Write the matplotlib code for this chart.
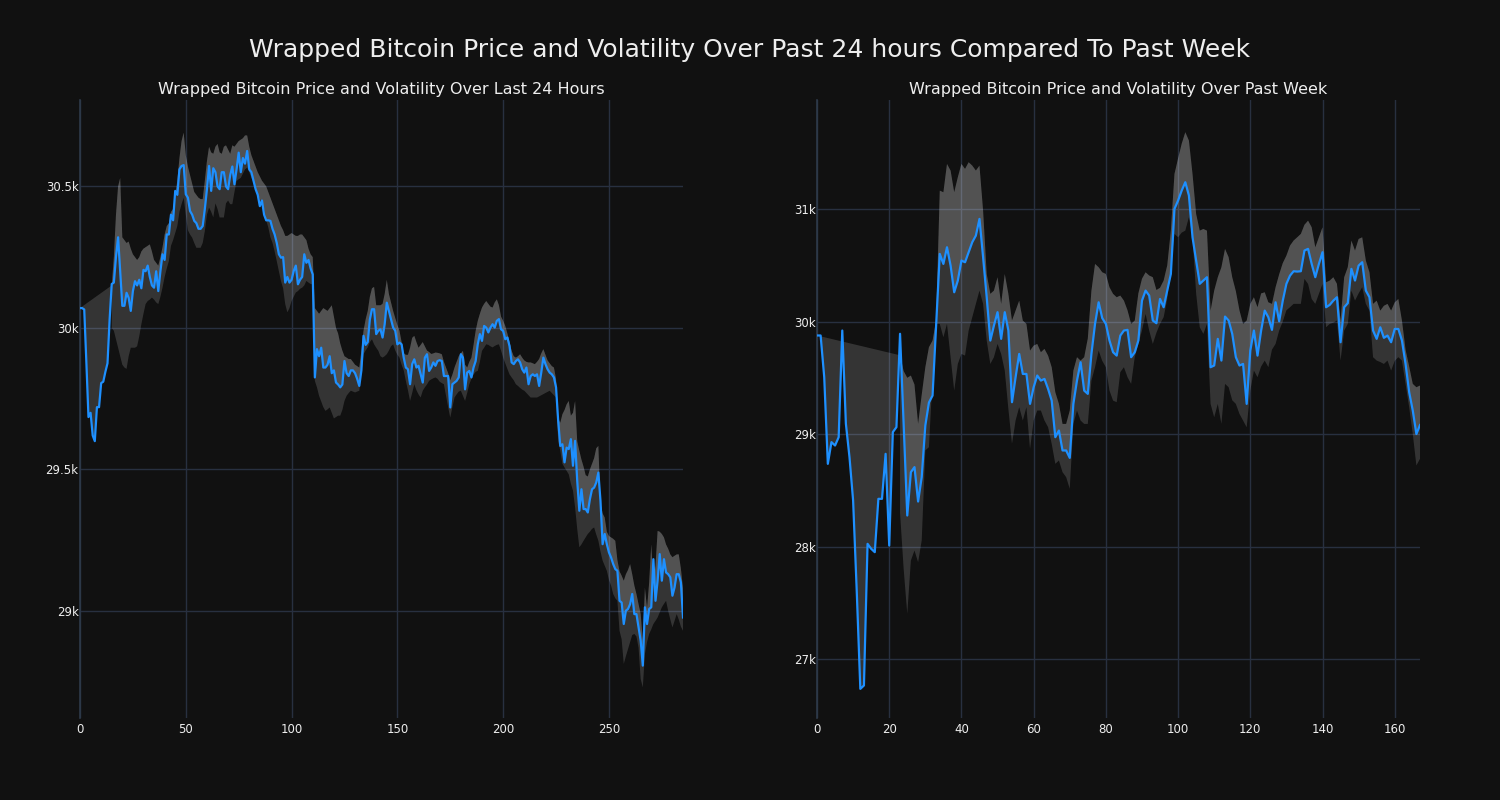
import numpy as np
import matplotlib
matplotlib.use("Agg")
import matplotlib.pyplot as plt
from matplotlib.ticker import MultipleLocator, FuncFormatter

# ---------------- data: last 24 hours (5-minute steps) ----------------
day_price = [
    30070, 30070, 30065, 29880, 29685, 29700, 29620, 29600, 29720, 29720,
    29805, 29810, 29845, 29875, 30030, 30155, 30160, 30250, 30320, 30200,
    30078, 30078, 30124, 30106, 30060, 30130, 30165, 30150, 30170, 30140,
    30205, 30200, 30220, 30180, 30150, 30142, 30200, 30130, 30200, 30260,
    30240, 30330, 30330, 30400, 30380, 30484, 30470, 30560, 30572, 30575,
    30472, 30460, 30413, 30400, 30378, 30370, 30350, 30350, 30360, 30420,
    30490, 30572, 30484, 30564, 30550, 30500, 30490, 30550, 30550, 30500,
    30490, 30540, 30570, 30507, 30560, 30619, 30550, 30600, 30580, 30625,
    30560, 30550, 30520, 30490, 30470, 30430, 30450, 30400, 30380, 30380,
    30378, 30350, 30330, 30300, 30260, 30248, 30250, 30160, 30180, 30160,
    30170, 30201, 30220, 30154, 30170, 30180, 30260, 30230, 30240, 30210,
    30189, 29825, 29925, 29900, 29930, 29860, 29860, 29870, 29900, 29840,
    29850, 29807, 29800, 29790, 29800, 29883, 29840, 29830, 29850, 29850,
    29840, 29820, 29795, 29850, 29972, 29940, 29950, 30030, 30066, 30066,
    29978, 29990, 29995, 29966, 30013, 30089, 30060, 30030, 30001, 29990,
    29942, 29948, 29942, 29895, 29860, 29854, 29801, 29872, 29889, 29860,
    29866, 29836, 29807, 29895, 29907, 29848, 29860, 29878, 29866, 29883,
    29886, 29883, 29830, 29830, 29830, 29719, 29801, 29807, 29813, 29825,
    29907, 29895, 29783, 29842, 29848, 29825, 29860, 29883, 29942, 29978,
    29954, 30007, 30001, 29984, 30001, 30013, 30001, 30025, 30031, 29995,
    29989, 29960, 29966, 29936, 29878, 29872, 29883, 29889, 29878, 29854,
    29842, 29860, 29801, 29830, 29836, 29830, 29836, 29795, 29842, 29895,
    29872, 29854, 29842, 29836, 29825, 29790, 29672, 29583, 29589, 29525,
    29577, 29572, 29607, 29513, 29601, 29460, 29354, 29430, 29360, 29360,
    29348, 29395, 29430, 29436, 29454, 29489, 29389, 29236, 29272, 29236,
    29207, 29189, 29166, 29148, 29142, 29036, 29030, 28954, 29001, 29007,
    29024, 29060, 28989, 28989, 28942, 28895, 28807, 29013, 28954, 29007,
    29013, 29183, 29036, 29107, 29201, 29107, 29183, 29136, 29130, 29119,
    29054, 29083, 29130, 29130, 29101, 28977,
]
day_band_start = 15
day_upper = [
    30150, 30250, 30400, 30500, 30530,
    30320, 30310, 30300, 30305, 30280, 30260, 30250, 30240, 30250, 30270,
    30280, 30285, 30290, 30295, 30270, 30240, 30230, 30220, 30250, 30285,
    30330, 30360, 30370, 30410, 30420, 30470, 30520, 30600, 30660, 30690,
    30610, 30570, 30540, 30510, 30480, 30470, 30460, 30455, 30455, 30520,
    30590, 30640, 30620, 30615, 30640, 30650, 30620, 30615, 30640, 30645,
    30630, 30615, 30645, 30640, 30650, 30660, 30665, 30670, 30680, 30680,
    30640, 30610, 30590, 30570, 30550, 30535, 30520, 30510, 30500, 30480,
    30460, 30440, 30420, 30400, 30380, 30360, 30345, 30325, 30325, 30330,
    30335, 30330, 30325, 30325, 30330, 30330, 30320, 30310, 30280, 30260,
    30250, 30070, 30060, 30050, 30060, 30070, 30065, 30060, 30070, 30080,
    30040, 30000, 29980, 29945, 29920, 29900, 29895, 29890, 29890, 29880,
    29870, 29865, 29860, 29920, 29990, 30030, 30060, 30110, 30140, 30145,
    30080, 30080, 30080, 30085, 30120, 30170, 30120, 30090, 30060, 30035,
    30010, 29990, 29950, 29910, 29905, 29905, 29930, 29965, 29972, 29950,
    29930, 29940, 29950, 29935, 29920, 29915, 29908, 29910, 29913, 29912,
    29910, 29907, 29880, 29860, 29840, 29815, 29835, 29860, 29880, 29900,
    29910, 29919, 29870, 29860, 29880, 29895, 29940, 29990, 30025, 30050,
    30072, 30085, 30095, 30085, 30075, 30072, 30090, 30101, 30080, 30040,
    30025, 30007, 29980, 29950, 29920, 29900, 29895, 29900, 29907, 29895,
    29885, 29880, 29878, 29878, 29875, 29872, 29880, 29890, 29910, 29925,
    29905, 29885, 29875, 29865, 29860, 29820, 29680, 29665, 29695, 29710,
    29730, 29742, 29690, 29700, 29742, 29600, 29566, 29535, 29510, 29480,
    29475, 29500, 29520, 29540, 29575, 29583, 29380, 29345, 29330, 29280,
    29265, 29260, 29255, 29248, 29180, 29140, 29125, 29107, 29130, 29145,
    29166, 29130, 29090, 29060, 29024, 28990, 28895, 29083, 29010, 29100,
    29236, 29100, 29160, 29283, 29280, 29272, 29260, 29235, 29220, 29200,
    29190, 29195, 29200, 29200, 29150, 29080,
]
day_lower = [
    30000, 29990, 29960, 29930, 29900,
    29870, 29860, 29855, 29900, 29930, 29930, 29930, 29935, 29970, 30013,
    30050, 30084, 30095, 30100, 30107, 30100, 30090, 30084, 30110, 30142,
    30180, 30210, 30236, 30290, 30310, 30335, 30360, 30410, 30437, 30460,
    30400, 30345, 30330, 30319, 30300, 30283, 30283, 30283, 30300, 30342,
    30400, 30425, 30410, 30390, 30440, 30420, 30390, 30390, 30390, 30440,
    30450, 30437, 30437, 30480, 30519, 30525, 30530, 30545, 30560, 30566,
    30550, 30530, 30515, 30495, 30475, 30455, 30448, 30420, 30380, 30355,
    30320, 30300, 30270, 30236, 30200, 30165, 30140, 30084, 30055, 30070,
    30095, 30110, 30125, 30130, 30138, 30142, 30150, 30166, 30160, 30155,
    30154, 29813, 29790, 29760, 29740, 29720, 29707, 29712, 29719, 29700,
    29680, 29685, 29690, 29690, 29710, 29742, 29760, 29770, 29778, 29775,
    29772, 29775, 29778, 29840, 29907, 29920, 29931, 29950, 29960, 29942,
    29930, 29919, 29900, 29895, 29900, 29907, 29920, 29935, 29942, 29920,
    29905, 29895, 29870, 29850, 29813, 29780, 29742, 29770, 29801, 29780,
    29765, 29754, 29778, 29790, 29800, 29813, 29818, 29822, 29825, 29820,
    29810, 29805, 29801, 29760, 29720, 29683, 29720, 29754, 29765, 29775,
    29778, 29760, 29742, 29770, 29801, 29820, 29835, 29845, 29848, 29880,
    29919, 29930, 29942, 29940, 29935, 29931, 29936, 29940, 29942, 29920,
    29895, 29875, 29855, 29836, 29825, 29815, 29801, 29795, 29788, 29782,
    29778, 29770, 29762, 29754, 29754, 29754, 29754, 29758, 29762, 29766,
    29770, 29774, 29778, 29770, 29762, 29754, 29600, 29566, 29520, 29507,
    29495, 29483, 29450, 29425, 29366, 29290, 29225, 29235, 29248, 29260,
    29272, 29280, 29290, 29295, 29270, 29248, 29210, 29178, 29160, 29142,
    29110, 29090, 29060, 29045, 29036, 28930, 28900, 28813, 28840, 28865,
    28890, 28915, 28919, 28910, 28870, 28760, 28730, 28848, 28890, 28919,
    28935, 28954, 28965, 28977, 28995, 29013, 29025, 29036, 29000, 28970,
    28942, 28965, 28989, 28970, 28945, 28930,
]

# ---------------- data: past week (hourly) ----------------
week_price = [
    29876, 29876, 29506, 28735, 28928, 28898, 28972, 29920, 29091, 28794,
    28409, 27609, 26735, 26765, 28024, 27980, 27950, 28424, 28424, 28824,
    28009, 29017, 29061, 29891, 29091, 28276, 28661, 28706, 28400, 28617,
    29076, 29280, 29342, 29979, 30601, 30512, 30660, 30497, 30260, 30364,
    30542, 30527, 30616, 30705, 30764, 30912, 30572, 30216, 29831, 29964,
    30083, 29846, 30083, 29920, 29283, 29505, 29712, 29534, 29534, 29268,
    29416, 29520, 29475, 29490, 29401, 29297, 28972, 29031, 28854, 28854,
    28788, 29268, 29475, 29638, 29386, 29357, 29712, 29979, 30171, 30030,
    29979, 29831, 29727, 29697, 29875, 29920, 29926, 29683, 29727, 29831,
    30186, 30275, 30231, 30009, 29985, 30201, 30127, 30275, 30423, 31001,
    31075, 31164, 31238, 31120, 30749, 30542, 30335, 30364, 30394, 29594,
    29609, 29846, 29653, 30044, 30009, 29890, 29683, 29609, 29623, 29268,
    29742, 29920, 29697, 29920, 30097, 30038, 29926, 30171, 30002, 30186,
    30335, 30408, 30447, 30444, 30447, 30631, 30646, 30512, 30394, 30512,
    30616, 30127, 30148, 30186, 30216, 29816, 30127, 30163, 30468, 30364,
    30497, 30527, 30275, 30216, 29920, 29846, 29949, 29855, 29875, 29816,
    29934, 29934, 29831, 29623, 29372, 29208, 29000, 29080,
]
week_band_start = 23
week_upper = [
    29700, 29560, 29500, 29520, 29440, 29090, 29350,
    29594, 29772, 29831, 30009, 31164, 31149, 31401, 31342, 31149, 31283,
    31401, 31357, 31416, 31386, 31342, 31386, 30986, 30423, 30246, 30275,
    30394, 30157, 30423, 30246, 30009, 30097, 30186, 30009, 29979, 29742,
    29786, 29801, 29727, 29757, 29697, 29594, 29372, 29268, 29090, 29090,
    29209, 29564, 29683, 29653, 29683, 29850, 30275, 30512, 30483, 30438,
    30423, 30305, 30246, 30216, 30231, 30186, 30100, 29979, 30009, 30250,
    30380, 30438, 30409, 30394, 30280, 30300, 30364, 30500, 30808, 31312,
    31450, 31580, 31683, 31609, 31312, 30957, 30808, 30823, 30808, 30097,
    30275, 30394, 30483, 30646, 30572, 30394, 30270, 30100, 29979, 30009,
    30157, 30216, 30127, 30250, 30260, 30171, 30157, 30305, 30420, 30520,
    30586, 30675, 30720, 30749, 30779, 30860, 30897, 30838, 30660, 30749,
    30838, 30349, 30364, 30394, 30335, 30009, 30394, 30483, 30720, 30631,
    30734, 30749, 30542, 30438, 30157, 30186, 30097, 30140, 30157, 30097,
    30170, 30201, 30009, 29750, 29600, 29446, 29416, 29431,
]
week_lower = [
    28300, 27800, 27402, 27876, 27965, 27861, 28054,
    28854, 28883, 29500, 29979, 29979, 29860, 29979, 29683, 29386, 29623,
    29712, 29697, 29920, 30038, 30157, 30275, 30157, 29831, 29623, 29683,
    29801, 29712, 29564, 29223, 28913, 29120, 29239, 29120, 29239, 28868,
    29120, 29209, 29209, 29120, 29061, 28913, 28735, 28765, 28661, 28617,
    28513, 29090, 29209, 29120, 29090, 29090, 29475, 29594, 29742, 29650,
    29594, 29386, 29297, 29283, 29550, 29594, 29505, 29446, 29683, 29800,
    29920, 30068, 29920, 29801, 29900, 29979, 30038, 30200, 30500, 30779,
    30749, 30790, 30808, 30927, 30749, 30250, 29950, 29890, 29979, 29268,
    29149, 29268, 29090, 29446, 29416, 29300, 29268, 29179, 29120, 29060,
    29386, 29564, 29505, 29600, 29653, 29594, 29750, 29801, 29920, 30000,
    30100, 30127, 30157, 30157, 30157, 30379, 30334, 30200, 30157, 30246,
    30334, 29949, 29979, 29990, 30009, 29653, 29920, 29979, 30275, 30186,
    30250, 30305, 30157, 30097, 29683, 29653, 29640, 29623, 29653, 29564,
    29650, 29683, 29653, 29446, 29238, 29000, 28720, 28780,
]

main_title = "Wrapped Bitcoin Price and Volatility Over Past 24 hours Compared To Past Week"
left_title = "Wrapped Bitcoin Price and Volatility Over Last 24 Hours"
right_title = "Wrapped Bitcoin Price and Volatility Over Past Week"

BG = "#111111"
GRID = "#283040"
LINE = "#1e90ff"
TXT = "#eeeeee"

fig = plt.figure(figsize=(15, 8), dpi=100, facecolor=BG)
ax1 = fig.add_axes([80 / 1500, 1 - 718 / 800, 603 / 1500, 618 / 800])
ax2 = fig.add_axes([817 / 1500, 1 - 718 / 800, 603 / 1500, 618 / 800])


def kfmt(v, pos):
    return f"{v / 1000:g}k"


def draw(ax, price, upper, lower, start, title, ylim, ystep):
    price = np.asarray(price, float)
    upper = np.asarray(upper, float)
    lower = np.asarray(lower, float)
    x = np.arange(len(price))
    xb = x[start:]
    # region between price and upper band (polygon closes back to first point)
    ax.fill(np.concatenate([x, xb[::-1]]), np.concatenate([price, upper[::-1]]),
            color="white", alpha=0.15, lw=0, zorder=1)
    # full band
    ax.fill(np.concatenate([xb, xb[::-1]]), np.concatenate([lower, upper[::-1]]),
            color="white", alpha=0.15, lw=0, zorder=1)
    ax.plot(x, price, color=LINE, lw=1.6, zorder=3)
    ax.set_facecolor(BG)
    ax.set_xlim(0, len(price) - 1)
    ax.set_ylim(*ylim)
    ax.yaxis.set_major_locator(MultipleLocator(ystep))
    ax.yaxis.set_major_formatter(FuncFormatter(kfmt))
    ax.xaxis.set_major_locator(MultipleLocator(50 if len(price) > 200 else 20))
    ax.grid(True, color=GRID, lw=1, zorder=0)
    ax.set_axisbelow(True)
    for s in ["top", "right", "bottom"]:
        ax.spines[s].set_visible(False)
    ax.spines["left"].set_color("#2e3a4a")
    ax.spines["left"].set_linewidth(1.2)
    ax.tick_params(axis="y", length=0, labelsize=8.5, colors=TXT, pad=1)
    ax.tick_params(axis="x", length=0, labelsize=8.5, colors=TXT, pad=3.5)
    ax.set_title(title, color=TXT, fontsize=11.5, pad=4.5)


draw(ax1, day_price, day_upper, day_lower, day_band_start, left_title,
     (28622, 30805), 500)
draw(ax2, week_price, week_upper, week_lower, week_band_start, right_title,
     (26476, 31969), 1000)

fig.suptitle(main_title, color=TXT, fontsize=18, y=1 - 50 / 800, va="center")

fig.savefig("out.png", dpi=100, facecolor=BG)
